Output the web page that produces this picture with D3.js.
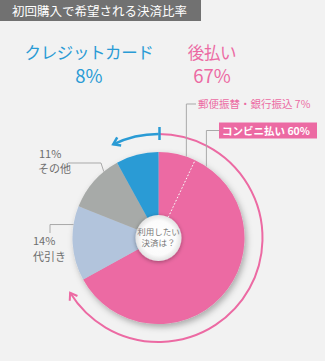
<!DOCTYPE html>
<html lang="ja">
<head>
<meta charset="utf-8">
<script src="https://cdn.jsdelivr.net/npm/d3@7"></script>
<style>
  html, body { margin: 0; padding: 0; background: #f2f2f2; }
  svg { display: block; }
  text { font-family: "Noto Sans CJK JP", "Noto Sans", sans-serif; }
</style>
</head>
<body>
<svg id="chart" width="325" height="361"></svg>
<script>
// Payment method shares, clockwise from 12 o'clock
const categories = ['郵便振替・銀行振込', 'コンビニ払い', '代引き', 'その他', 'クレジットカード'];
const values = [7, 60, 14, 11, 8];

// Headline groups
const groupNames = ['クレジットカード', '後払い'];
const groupValues = [8, 67];

const title = '初回購入で希望される決済比率';
const centerLines = ['利用したい', '決済は？'];

const W = 325, H = 361;
const cx = 158.5, cy = 238;
const R = 86, r0 = 23, ringR = 104;

const pink = '#ec6aa3', blue = '#2a9bd5';
const color = d3.scaleOrdinal()
  .domain(categories)
  .range([pink, pink, '#b2c4dc', '#a7aaa8', blue]);

const svg = d3.select('#chart');
const defs = svg.append('defs');

const shadow = defs.append('filter').attr('id', 'shadow')
  .attr('x', '-20%').attr('y', '-20%').attr('width', '140%').attr('height', '140%');
shadow.append('feDropShadow')
  .attr('dx', 2).attr('dy', 3).attr('stdDeviation', 3)
  .attr('flood-color', '#000').attr('flood-opacity', 0.3);

const innerShadow = defs.append('filter').attr('id', 'innerShadow')
  .attr('x', '-40%').attr('y', '-40%').attr('width', '180%').attr('height', '180%');
innerShadow.append('feDropShadow')
  .attr('dx', 0).attr('dy', 1).attr('stdDeviation', 2)
  .attr('flood-color', '#000').attr('flood-opacity', 0.35);

const grad = defs.append('radialGradient').attr('id', 'innerFill');
grad.append('stop').attr('offset', '0%').attr('stop-color', '#ffffff');
grad.append('stop').attr('offset', '75%').attr('stop-color', '#fbfbfb');
grad.append('stop').attr('offset', '100%').attr('stop-color', '#e2e2e2');

// Title bar
svg.append('rect').attr('x', 0).attr('y', 0).attr('width', 201).attr('height', 21)
  .attr('fill', '#717171');
svg.append('text').attr('x', 12).attr('y', 15.5)
  .attr('fill', '#fff').attr('font-size', 12.5)
  .text(title);

// Headline figures
const headX = d3.scalePoint().domain(groupNames).range([89, 212]);
const headColor = d3.scaleOrdinal().domain(groupNames).range([blue, pink]);
const head = svg.append('g').selectAll('g').data(groupNames).join('g')
  .attr('transform', d => `translate(${headX(d)},0)`)
  .attr('fill', d => headColor(d))
  .attr('text-anchor', 'middle');
head.append('text').attr('y', 59).attr('font-size', 16.5)
  .attr('letter-spacing', -0.4)
  .text(d => d);
head.append('text').attr('y', 83).attr('font-size', 18.5)
  .text((d, i) => groupValues[i] + '%');

// Pie
const pie = d3.pie().sort(null).value(d => d).startAngle(0).endAngle(2 * Math.PI);
const arcs = pie(values);
const arc = d3.arc().innerRadius(0).outerRadius(R);

const g = svg.append('g').attr('transform', `translate(${cx},${cy})`);
g.append('g').attr('filter', 'url(#shadow)')
  .selectAll('path').data(arcs).join('path')
  .attr('d', arc)
  .attr('fill', (d, i) => color(categories[i]));

// Dotted divider inside the 後払い share
const polar = (a, rad) => [rad * Math.sin(a), -rad * Math.cos(a)];
const divA = arcs[0].endAngle;
const [dx0, dy0] = polar(divA, r0);
const [dx1, dy1] = polar(divA, R);
g.append('line')
  .attr('x1', dx0).attr('y1', dy0).attr('x2', dx1).attr('y2', dy1)
  .attr('stroke', '#fff').attr('stroke-width', 1).attr('stroke-dasharray', '1.5,2');

// Center disc
g.append('circle').attr('r', r0).attr('fill', 'url(#innerFill)')
  .attr('filter', 'url(#innerShadow)');
g.append('g').attr('text-anchor', 'middle').attr('fill', '#7a7a7a').attr('font-size', 8.5)
  .selectAll('text').data(centerLines).join('text')
  .attr('y', (d, i) => -3.5 + i * 11.5)
  .text(d => d);

// Sweep arrows around the pie
const sharePink = d3.sum(values.slice(0, 2)) / d3.sum(values);
const shareBlue = values[4] / d3.sum(values);
function sweep(a0, a1, stroke, width) {
  const p = d3.path();
  const ccw = a1 < a0;
  p.arc(0, 0, ringR, a0 - Math.PI / 2, a1 - Math.PI / 2, ccw);
  g.append('path').attr('d', p.toString()).attr('fill', 'none')
    .attr('stroke', stroke).attr('stroke-width', width);
  // chevron head at the end of the sweep
  const [tx, ty] = polar(a1, ringR);
  const dir = ccw ? -1 : 1;
  const ux = dir * Math.cos(a1), uy = dir * Math.sin(a1);
  const L = 8, spread = 0.6;
  const back = ang => {
    const c = Math.cos(ang), s = Math.sin(ang);
    const bx = -(ux * c - uy * s), by = -(ux * s + uy * c);
    return [tx + bx * L, ty + by * L];
  };
  const [ax, ay] = back(spread), [bx, by] = back(-spread);
  g.append('path').attr('d', `M${ax},${ay}L${tx},${ty}L${bx},${by}`)
    .attr('fill', 'none').attr('stroke', stroke).attr('stroke-width', width)
    .attr('stroke-linejoin', 'miter').attr('stroke-linecap', 'butt');
}
const lag = 3 * Math.PI / 180;
sweep(0, 2 * Math.PI * sharePink - lag, pink, 2);
sweep(0, -(2 * Math.PI * shareBlue - lag), blue, 2.5);
g.append('line').attr('x1', 1).attr('x2', 1)
  .attr('y1', -ringR - 7).attr('y2', -ringR + 6)
  .attr('stroke', blue).attr('stroke-width', 2.5);

// Leader lines and labels
const anchor = (i, t) => {
  const a = arcs[i].startAngle + t * (arcs[i].endAngle - arcs[i].startAngle);
  const [x, y] = polar(a, R);
  return [cx + x, cy + y];
};
const leader = svg.append('g').attr('fill', 'none').attr('stroke', '#a9a9a9').attr('stroke-width', 1);
const lab = svg.append('g');

// 郵便振替・銀行振込
{
  const [x, y] = anchor(0, 0.75);
  leader.append('path').attr('d', `M${x},${y}V104H196`);
  lab.append('text').attr('x', 198).attr('y', 108).attr('font-size', 10.5)
    .attr('fill', pink).text(`${categories[0]} ${values[0]}%`);
}
// コンビニ払い
{
  const [x, y] = anchor(1, 0.04);
  leader.append('path').attr('d', `M${x},${y}V130.5H219`);
  lab.append('rect').attr('x', 219).attr('y', 122.5).attr('width', 98).attr('height', 16)
    .attr('fill', pink);
  lab.append('text').attr('x', 222).attr('y', 134.5).attr('font-size', 10.5)
    .attr('font-weight', 'bold').attr('fill', '#fff')
    .text(`${categories[1]} ${values[1]}%`);
}
// 代引き
{
  const [x, y] = anchor(2, 0.75);
  leader.append('path').attr('d', `M${x},${y}H50V233`);
  lab.append('text').attr('x', 33).attr('y', 245).attr('font-size', 11)
    .attr('fill', '#6e6e6e').text(`${values[2]}%`);
  lab.append('text').attr('x', 33).attr('y', 261).attr('font-size', 11)
    .attr('fill', '#6e6e6e').text(categories[2]);
}
// その他
{
  const [x, y] = anchor(3, 0.73);
  leader.append('path').attr('d', `M${x},${y}L101,163H68`);
  lab.append('text').attr('x', 39).attr('y', 158).attr('font-size', 11)
    .attr('fill', '#6e6e6e').text(`${values[3]}%`);
  lab.append('text').attr('x', 38).attr('y', 173).attr('font-size', 11)
    .attr('fill', '#6e6e6e').text(categories[3]);
}
</script>
</body>
</html>
